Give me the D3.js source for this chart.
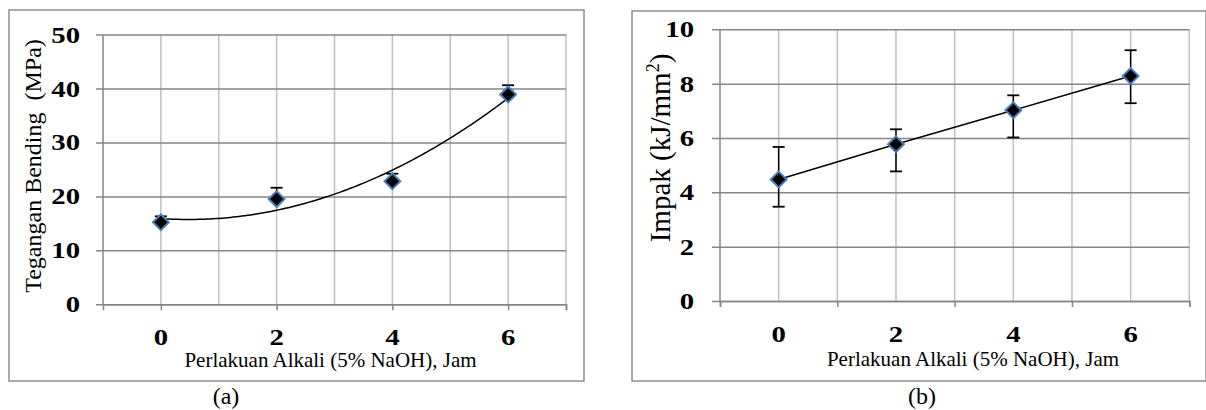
<!DOCTYPE html>
<html><head><meta charset="utf-8">
<script src="https://cdn.jsdelivr.net/npm/d3@7"></script>
<style>
body{margin:0;background:#fff;}
svg{display:block;}
text{font-family:"Liberation Serif","Times New Roman",serif;fill:#000;}
</style></head>
<body><svg id="c" width="1206" height="410"></svg>
<script>
// ---- data ----
const hours = [0, 2, 4, 6];
const xTickLabels = [0, 2, 4, 6];
// (a) Tegangan Bending (MPa)
const bendValues = [15.2, 19.5, 22.8, 38.9];
const bendErrPlus = [1.1, 2.1, 1.4, 1.7];
const bendYTicks = [0, 10, 20, 30, 40, 50];
// (b) Impak (kJ/mm2)
const impactValues = [4.47, 5.77, 7.02, 8.28];
const impactErrPlus = [1.2, 0.55, 0.55, 0.95];
const impactErrMinus = [1.0, 1.0, 1.0, 1.0];
const impactYTicks = [0, 2, 4, 6, 8, 10];
const xTitle = "Perlakuan Alkali (5% NaOH), Jam";

const svg = d3.select("#c");
const H_GRID = "#878787", V_GRID = "#c0c0c0", AXIS = "#868686", BORDER = "#8e8e8e";
const TICK_SX = 1.25;

function quadFit(xs, ys){
  // least squares y = a + b x + c x^2
  const n = xs.length;
  let S = [0,0,0,0,0], T = [0,0,0];
  for(let i=0;i<n;i++){const x=xs[i],y=ys[i];
    for(let k=0;k<5;k++) S[k]+=Math.pow(x,k);
    for(let k=0;k<3;k++) T[k]+=y*Math.pow(x,k);}
  const M=[[S[0],S[1],S[2],T[0]],[S[1],S[2],S[3],T[1]],[S[2],S[3],S[4],T[2]]];
  for(let i=0;i<3;i++){for(let j=i+1;j<3;j++){const f=M[j][i]/M[i][i];for(let k=i;k<4;k++)M[j][k]-=f*M[i][k];}}
  const r=[0,0,0];
  for(let i=2;i>=0;i--){let s=M[i][3];for(let k=i+1;k<3;k++)s-=M[i][k]*r[k];r[i]=s/M[i][i];}
  return x=>r[0]+r[1]*x+r[2]*x*x;
}

function panel(o){
  const g = svg.append("g");
  g.append("rect").attr("x",o.box[0]).attr("y",o.box[1]).attr("width",o.box[2]).attr("height",o.box[3])
    .attr("fill","#fff").attr("stroke",BORDER).attr("stroke-width",1.5);
  const x = d3.scaleLinear().domain([-1,7]).range([o.L,o.R]);
  const y = d3.scaleLinear().domain(o.yDomain).range([o.B,o.T]);
  // vertical gridlines
  g.append("g").selectAll("line").data(d3.range(0,8)).join("line")
    .attr("x1",d=>x(d)).attr("x2",d=>x(d)).attr("y1",o.T).attr("y2",o.B)
    .attr("stroke",V_GRID).attr("stroke-width",1.5);
  // horizontal gridlines via axis
  const ya = d3.axisLeft(y).tickValues(o.yTicks).tickSize(-(o.R-o.L)).tickFormat("");
  const yg = g.append("g").attr("transform",`translate(${o.L},0)`).call(ya);
  yg.select(".domain").remove();
  yg.selectAll(".tick line").attr("stroke",H_GRID).attr("stroke-width",1.5).attr("x1",-o.tickOut);
  // left axis line
  g.append("line").attr("x1",o.L).attr("x2",o.L).attr("y1",o.T).attr("y2",o.B).attr("stroke",AXIS).attr("stroke-width",1.5);
  // y tick labels
  g.append("g").selectAll("text").data(o.yTicks).join("text")
    .attr("transform",d=>`translate(${o.yLabelX},${y(d)}) scale(${TICK_SX},1)`)
    .attr("dy","0.35em").attr("text-anchor","end")
    .attr("font-weight","bold").attr("font-size",o.yTickFont).text(d=>d);
  // x axis ticks
  const xa = d3.axisBottom(x).tickValues(o.xTickMarks).tickSize(6).tickFormat("");
  const xg = g.append("g").attr("transform",`translate(0,${o.B})`).call(xa);
  xg.select(".domain").attr("stroke",AXIS).attr("stroke-width",1.5);
  xg.selectAll(".tick line").attr("stroke",AXIS).attr("stroke-width",1.5);
  // x tick labels
  g.append("g").selectAll("text").data(xTickLabels).join("text")
    .attr("transform",d=>`translate(${x(d)},${o.xLabelY}) scale(${TICK_SX},1)`)
    .attr("text-anchor","middle")
    .attr("font-weight","bold").attr("font-size",o.xTickFont).text(d=>d);
  // x title
  g.append("text").attr("x",o.xTitleX).attr("y",o.xTitleY).attr("text-anchor","middle")
    .attr("font-size",o.xTitleFont).text(xTitle);
  // caption
  g.append("text").attr("x",o.capX).attr("y",404).attr("text-anchor","middle")
    .attr("font-size",24).text(o.caption);
  return {g,x,y};
}

// ---- panel (a) ----
const A = panel({box:[9,10,575,371], L:103, R:566, T:34.5, B:304.3, yDomain:[0,50], yTicks:bendYTicks,
  tickOut:7, yLabelX:80, yTickFont:23, xTickMarks:[0,2,4,6,7], xLabelY:345, xTickFont:23,
  xTitleX:330.5, xTitleY:367, xTitleFont:21, capX:226, caption:"(a)"});
A.g.append("text").attr("transform","translate(41,166) rotate(-90)").attr("text-anchor","middle")
  .attr("font-size",24).attr("xml:space","preserve").text("Tegangan Bending  (MPa)");
const fit = quadFit(hours, bendValues);
A.g.append("path").datum(d3.range(0,6.001,0.05)).attr("fill","none").attr("stroke","#000").attr("stroke-width",1.5)
  .attr("d",d3.line().x(d=>A.x(d)).y(d=>A.y(fit(d))));
hours.forEach((h,i)=>{
  const cx=A.x(h), top=A.y(bendValues[i]+bendErrPlus[i]);
  A.g.append("line").attr("x1",cx).attr("x2",cx).attr("y1",A.y(bendValues[i])).attr("y2",top).attr("stroke","#000").attr("stroke-width",1.5);
  A.g.append("line").attr("x1",cx-6).attr("x2",cx+6).attr("y1",top).attr("y2",top).attr("stroke","#000").attr("stroke-width",1.8);
});
const diamond = d3.symbol().type(d3.symbolSquare).size(125);
A.g.append("g").selectAll("path").data(hours).join("path")
  .attr("transform",(d,i)=>`translate(${A.x(d)},${A.y(bendValues[i])}) rotate(45)`)
  .attr("d",diamond).attr("fill","#000").attr("stroke","#4a7ebb").attr("stroke-width",2);

// ---- panel (b) ----
const B = panel({box:[632,11,574,370], L:720, R:1189.3, T:29.3, B:301, yDomain:[0,10], yTicks:impactYTicks,
  tickOut:8, yLabelX:694, yTickFont:23, xTickMarks:[-1,1,3,5,7], xLabelY:341.5, xTickFont:23,
  xTitleX:973, xTitleY:366, xTitleFont:21, capX:922, caption:"(b)"});
const yt = B.g.append("text").attr("transform","translate(670,148) rotate(-90)").attr("text-anchor","middle")
  .attr("font-size",29);
yt.append("tspan").text("Impak (kJ/mm");
yt.append("tspan").attr("font-size",18).attr("dy",-11).text("2");
yt.append("tspan").attr("dy",11).text(")");
B.g.append("path").datum(hours).attr("fill","none").attr("stroke","#000").attr("stroke-width",1.5)
  .attr("d",d3.line().x(d=>B.x(d)).y((d,i)=>B.y(impactValues[i])));
hours.forEach((h,i)=>{
  const cx=B.x(h), top=B.y(impactValues[i]+impactErrPlus[i]), bot=B.y(impactValues[i]-impactErrMinus[i]);
  B.g.append("line").attr("x1",cx).attr("x2",cx).attr("y1",bot).attr("y2",top).attr("stroke","#000").attr("stroke-width",1.5);
  [top,bot].forEach(yy=>B.g.append("line").attr("x1",cx-6).attr("x2",cx+6).attr("y1",yy).attr("y2",yy).attr("stroke","#000").attr("stroke-width",1.8));
});
B.g.append("g").selectAll("path").data(hours).join("path")
  .attr("transform",(d,i)=>`translate(${B.x(d)},${B.y(impactValues[i])}) rotate(45)`)
  .attr("d",diamond).attr("fill","#000").attr("stroke","#4a7ebb").attr("stroke-width",2);
</script></body></html>
